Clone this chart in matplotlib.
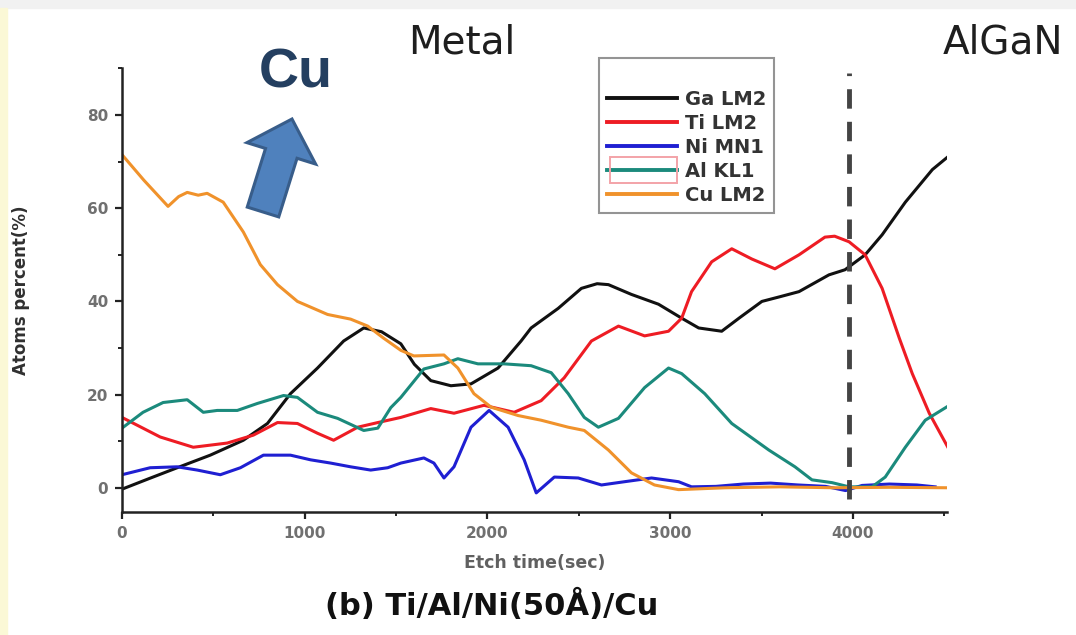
import matplotlib
matplotlib.use("Agg")
import matplotlib.pyplot as plt
from matplotlib.patches import Rectangle, FancyArrow
from matplotlib.transforms import IdentityTransform
from matplotlib.ticker import MultipleLocator

# depth profile read-out: etch time (s) vs atomic percent
ga_t = [0, 150, 302, 483, 664, 796, 922, 1070, 1213, 1323, 1420, 1526, 1600, 1690, 1800,
        1910, 2058, 2184, 2239, 2387, 2514, 2600, 2662, 2788, 2936, 3063, 3156, 3282, 3380,
        3502, 3600, 3705, 3869, 3957, 4067, 4160, 4287, 4435, 4528]
ga_y = [-0.3, 2.0, 4.3, 7.0, 10.2, 13.8, 20.2, 25.7, 31.5, 34.3, 33.5, 30.9, 26.5, 23.0, 21.9,
        22.3, 25.7, 31.5, 34.3, 38.5, 42.8, 43.8, 43.6, 41.5, 39.4, 36.4, 34.3, 33.6, 36.5,
        40.0, 41.0, 42.1, 45.7, 46.8, 50.0, 54.3, 61.3, 68.3, 71.3]

ti_t = [0, 209, 390, 576, 719, 851, 960, 1070, 1158, 1290, 1400, 1526, 1690, 1817, 1981,
        2146, 2294, 2420, 2569, 2717, 2860, 2991, 3063, 3117, 3227, 3337, 3447, 3573, 3705,
        3847, 3900, 3979, 4067, 4160, 4254, 4325, 4418, 4528]
ti_y = [15.1, 10.9, 8.7, 9.6, 11.3, 14.0, 13.8, 11.7, 10.2, 13.0, 14.0, 15.1, 17.0, 16.0, 17.7,
        16.2, 18.7, 23.6, 31.5, 34.7, 32.6, 33.6, 36.4, 42.1, 48.5, 51.3, 49.1, 47.0, 50.0,
        53.8, 54.0, 52.8, 50.0, 42.8, 32.1, 24.5, 16.0, 8.1]

ni_t = [0, 154, 302, 412, 538, 648, 774, 922, 1032, 1142, 1251, 1361, 1454, 1526, 1652,
        1707, 1762, 1817, 1910, 2009, 2113, 2201, 2267, 2366, 2497, 2624, 2750, 2898, 3046,
        3117, 3250, 3400, 3550, 3700, 3850, 3960, 4050, 4200, 4350, 4450]
ni_y = [2.8, 4.3, 4.5, 3.8, 2.8, 4.3, 7.0, 7.0, 6.0, 5.3, 4.5, 3.8, 4.3, 5.3, 6.4,
        5.3, 2.1, 4.5, 13.0, 16.6, 13.0, 6.0, -1.1, 2.3, 2.1, 0.6, 1.3, 2.1, 1.3,
        0.2, 0.3, 0.8, 1.0, 0.6, 0.3, -0.6, 0.5, 0.8, 0.6, 0.2]

al_t = [0, 115, 225, 357, 445, 521, 631, 741, 884, 960, 1070, 1180, 1323, 1400, 1471,
        1526, 1652, 1762, 1838, 1948, 2091, 2239, 2349, 2442, 2530, 2607, 2717, 2860, 2991,
        3063, 3189, 3337, 3540, 3683, 3776, 3886, 3979, 4105, 4177, 4287, 4396, 4528]
al_y = [12.8, 16.2, 18.3, 18.9, 16.2, 16.6, 16.6, 18.1, 19.8, 19.4, 16.2, 14.9, 12.3, 12.8, 17.2,
        19.4, 25.5, 26.6, 27.7, 26.6, 26.6, 26.2, 24.7, 20.2, 15.1, 13.0, 14.9, 21.5, 25.7,
        24.5, 20.2, 13.8, 8.1, 4.5, 1.7, 1.1, 0.2, 0.2, 2.3, 8.7, 14.5, 17.7]

cu_t = [0, 120, 252, 310, 357, 417, 466, 554, 664, 757, 851, 960, 1125, 1251, 1345,
        1432, 1526, 1597, 1762, 1838, 1926, 2020, 2168, 2294, 2442, 2530, 2662, 2788, 2914,
        3046, 3300, 3600, 3900, 4200, 4520]
cu_y = [71.5, 66.0, 60.4, 62.5, 63.4, 62.8, 63.2, 61.3, 54.9, 47.9, 43.6, 40.0, 37.2, 36.2, 34.7,
        32.1, 29.5, 28.3, 28.5, 25.7, 20.2, 17.3, 15.5, 14.5, 13.0, 12.3, 8.1, 3.2, 0.6,
        -0.4, 0.0, 0.2, 0.0, 0.1, 0.0]

labels = ["Ga LM2", "Ti LM2", "Ni MN1", "Al KL1", "Cu LM2"]
colors = ["#111111", "#ee1c24", "#1f1fd2", "#1b8a7c", "#f0922b"]
interface_t = 3980

fig = plt.figure(figsize=(10.76, 6.35), dpi=100)
fig.patch.set_facecolor("white")

# grey strip along the top, cream strip down the left edge
fig.add_artist(Rectangle((0, 1 - 8 / 635), 1, 8 / 635, transform=fig.transFigure,
                         color="#f1f1f1", zorder=-5))
fig.add_artist(Rectangle((0, 0), 7 / 1076, 1 - 8 / 635, transform=fig.transFigure,
                         color="#fbf8d6", zorder=-5))

ax = fig.add_axes([122 / 1076, 1 - 512 / 635, 825 / 1076, 444 / 635])

series = [(ga_t, ga_y), (ti_t, ti_y), (ni_t, ni_y), (al_t, al_y), (cu_t, cu_y)]
for (t, y), lab, c in zip(series, labels, colors):
    ax.plot(t, y, color=c, lw=2.2, label=lab, solid_joinstyle="round")

ax.vlines(interface_t, -2.5, 89, colors="#444444", lw=3.5, linestyles=(0, (4, 2.7)))

ax.set_xlim(0, 4515)
ax.set_ylim(-5.2, 90.1)
ax.spines["top"].set_visible(False)
ax.spines["right"].set_visible(False)
for s in ("left", "bottom"):
    ax.spines[s].set_linewidth(1.8)
    ax.spines[s].set_color("#222222")

ax.xaxis.set_major_locator(MultipleLocator(1000))
ax.xaxis.set_minor_locator(MultipleLocator(500))
ax.yaxis.set_major_locator(MultipleLocator(20))
ax.yaxis.set_minor_locator(MultipleLocator(10))
ax.tick_params(which="major", direction="out", length=5, width=1.6, color="#222222",
               labelsize=11, labelcolor="#707070", pad=5)
ax.tick_params(which="minor", direction="out", length=3, width=1.4, color="#222222")
for lbl in ax.get_xticklabels() + ax.get_yticklabels():
    lbl.set_fontweight("bold")

ax.set_xlabel("Etch time(sec)", fontsize=12.5, fontweight="bold", color="#606060")
ax.xaxis.set_label_coords(0.5, -0.095)
ax.set_ylabel("Atoms percent(%)", fontsize=12, fontweight="bold", color="#303030")
ax.yaxis.set_label_coords(-0.112, 0.5)

leg = ax.legend(loc="upper left", bbox_to_anchor=(599 / 1076, 1 - 58 / 635),
                bbox_transform=fig.transFigure, borderaxespad=0, frameon=True,
                fancybox=False, title=" ", title_fontsize=14, handlelength=3.6,
                handletextpad=0.4, labelspacing=0.26, borderpad=0.4,
                prop={"size": 14, "weight": "bold"})
leg.get_frame().set_edgecolor("#7a7a7a")
leg.get_frame().set_linewidth(1.5)
for txt in leg.get_texts():
    txt.set_color("#333333")
for ln in leg.get_lines():
    ln.set_linewidth(2.8)

# pink selection box around the Al KL1 key
fig.canvas.draw()
bb = leg.get_lines()[3].get_window_extent(fig.canvas.get_renderer())
fig.add_artist(Rectangle((bb.x0 + 3, bb.y0 + bb.height / 2 - 13), bb.width - 3, 26,
                         transform=IdentityTransform(), fill=False,
                         edgecolor="#f3a3a8", lw=1.4, zorder=10))

fig.text(462 / 1076, 1 - 42 / 635, "Metal", fontsize=28, color="#1e1e1e",
         ha="center", va="center")
fig.text(1003 / 1076, 1 - 42 / 635, "AlGaN", fontsize=28, color="#1e1e1e",
         ha="center", va="center")
fig.text(296 / 1076, 1 - 74 / 635, "Cu", fontsize=40, fontweight="bold", color="#243f60",
         family=["Liberation Sans", "DejaVu Sans"], ha="center", va="center")
fig.text(492 / 1076, 1 - 605 / 635, "(b) Ti/Al/Ni(50Å)/Cu", fontsize=22, fontweight="bold",
         color="#111111", ha="center", va="center")

# block arrow pointing up at the Cu label
fig.add_artist(FancyArrow(2.63, 4.23, 0.29, 0.93, width=0.33, head_width=0.72,
                          head_length=0.36, length_includes_head=True,
                          transform=fig.dpi_scale_trans, facecolor="#4f81bd",
                          edgecolor="#385d8a", lw=2.2, zorder=10))

fig.savefig("out.png", dpi=100)
